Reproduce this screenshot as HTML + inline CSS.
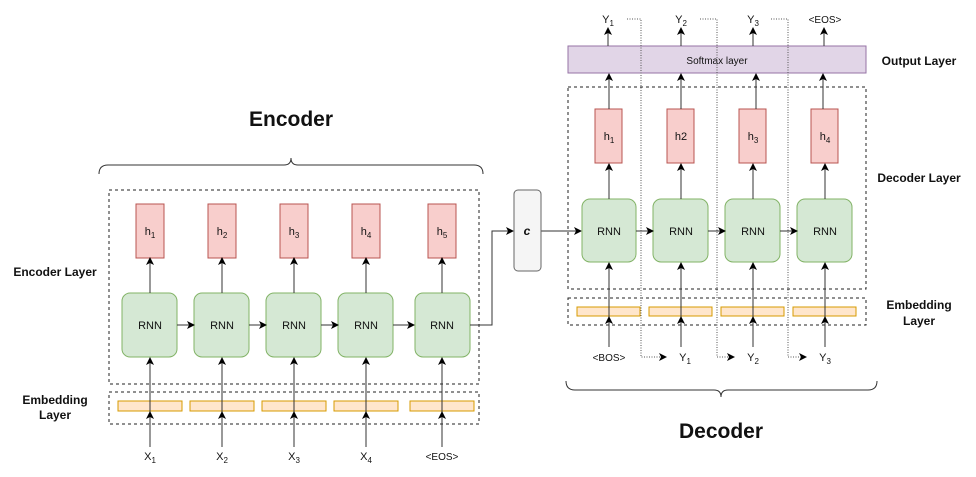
<!DOCTYPE html>
<html><head><meta charset="utf-8"><style>
html,body{margin:0;padding:0;background:#fff;width:976px;height:477px;overflow:hidden}
text{font-family:"Liberation Sans",Arial,sans-serif;fill:#111}
</style></head><body>
<svg width="976" height="477" viewBox="0 0 976 477" xmlns="http://www.w3.org/2000/svg">
<defs>
<marker id="a" markerWidth="8" markerHeight="8" refX="7" refY="4" orient="auto" markerUnits="userSpaceOnUse"><path d="M0,0 L8,4 L0,8 L2,4 z" fill="#000"/></marker>
</defs>
<text x="291" y="126" font-size="21" font-weight="bold" text-anchor="middle">Encoder</text>
<path d="M99,174 Q99,165 108,165 L284,165 Q291,165 291,158 Q291,165 298,165 L474,165 Q483,165 483,174" fill="none" stroke="#333" stroke-width="1"/>
<rect x="109" y="190" width="370" height="194" fill="none" stroke="#222" stroke-dasharray="3,3"/>
<rect x="109" y="392" width="370" height="32" fill="none" stroke="#222" stroke-dasharray="3,3"/>
<text x="55" y="276" font-size="12" font-weight="bold" text-anchor="middle">Encoder Layer</text>
<text x="55" y="404" font-size="12" font-weight="bold" text-anchor="middle">Embedding</text>
<text x="55" y="419" font-size="12" font-weight="bold" text-anchor="middle">Layer</text>
<g fill="#f8cecc" stroke="#b85450">
<rect x="136" y="204" width="28" height="54"/><rect x="208" y="204" width="28" height="54"/><rect x="280" y="204" width="28" height="54"/><rect x="352" y="204" width="28" height="54"/><rect x="428" y="204" width="28" height="54"/>
</g>
<g fill="#d5e8d4" stroke="#82b366">
<rect x="122" y="293" width="55" height="64" rx="8"/><rect x="194" y="293" width="55" height="64" rx="8"/><rect x="266" y="293" width="55" height="64" rx="8"/><rect x="338" y="293" width="55" height="64" rx="8"/><rect x="415" y="293" width="55" height="64" rx="8"/>
</g>
<g fill="#ffe6cc" stroke="#d79b00">
<rect x="118" y="401" width="64" height="10"/><rect x="190" y="401" width="64" height="10"/><rect x="262" y="401" width="64" height="10"/><rect x="334" y="401" width="64" height="10"/><rect x="410" y="401" width="64" height="10"/>
</g>
<g stroke="#333" stroke-width="1" fill="none">
<line x1="150" y1="447" x2="150" y2="358" marker-end="url(#a)"/>
<line x1="222" y1="447" x2="222" y2="358" marker-end="url(#a)"/>
<line x1="294" y1="447" x2="294" y2="358" marker-end="url(#a)"/>
<line x1="366" y1="447" x2="366" y2="358" marker-end="url(#a)"/>
<line x1="442" y1="447" x2="442" y2="358" marker-end="url(#a)"/>
<line x1="150" y1="420" x2="150" y2="412" marker-end="url(#a)"/>
<line x1="222" y1="420" x2="222" y2="412" marker-end="url(#a)"/>
<line x1="294" y1="420" x2="294" y2="412" marker-end="url(#a)"/>
<line x1="366" y1="420" x2="366" y2="412" marker-end="url(#a)"/>
<line x1="442" y1="420" x2="442" y2="412" marker-end="url(#a)"/>
<line x1="150" y1="293" x2="150" y2="258" marker-end="url(#a)"/>
<line x1="222" y1="293" x2="222" y2="258" marker-end="url(#a)"/>
<line x1="294" y1="293" x2="294" y2="258" marker-end="url(#a)"/>
<line x1="366" y1="293" x2="366" y2="258" marker-end="url(#a)"/>
<line x1="442" y1="293" x2="442" y2="258" marker-end="url(#a)"/>
<line x1="177" y1="325" x2="194" y2="325" marker-end="url(#a)"/>
<line x1="249" y1="325" x2="266" y2="325" marker-end="url(#a)"/>
<line x1="321" y1="325" x2="338" y2="325" marker-end="url(#a)"/>
<line x1="393" y1="325" x2="414" y2="325" marker-end="url(#a)"/>
<polyline points="470,325 492,325 492,231 513,231" marker-end="url(#a)"/>
<line x1="541" y1="231" x2="581" y2="231" marker-end="url(#a)"/>
</g>
<g font-size="11" text-anchor="middle">
<text x="150" y="235">h<tspan font-size="8" dy="3">1</tspan></text>
<text x="222" y="235">h<tspan font-size="8" dy="3">2</tspan></text>
<text x="294" y="235">h<tspan font-size="8" dy="3">3</tspan></text>
<text x="366" y="235">h<tspan font-size="8" dy="3">4</tspan></text>
<text x="442" y="235">h<tspan font-size="8" dy="3">5</tspan></text>
<text x="150" y="329">RNN</text><text x="222" y="329">RNN</text><text x="294" y="329">RNN</text><text x="366" y="329">RNN</text><text x="442" y="329">RNN</text>
<text x="150" y="460">X<tspan font-size="8" dy="3">1</tspan></text>
<text x="222" y="460">X<tspan font-size="8" dy="3">2</tspan></text>
<text x="294" y="460">X<tspan font-size="8" dy="3">3</tspan></text>
<text x="366" y="460">X<tspan font-size="8" dy="3">4</tspan></text>
<text x="442" y="460" font-size="10">&lt;EOS&gt;</text>
</g>
<rect x="514" y="190" width="27" height="81" rx="4" fill="#f5f5f5" stroke="#666"/>
<text x="527" y="235" font-size="12" font-weight="bold" font-style="italic" text-anchor="middle">c</text>
<rect x="568" y="46" width="298" height="27" fill="#e1d5e7" stroke="#9673a6"/>
<text x="717" y="64" font-size="10" text-anchor="middle">Softmax layer</text>
<rect x="568" y="87" width="298" height="202" fill="none" stroke="#222" stroke-dasharray="3,3"/>
<rect x="568" y="298" width="298" height="27" fill="none" stroke="#222" stroke-dasharray="3,3"/>
<text x="919" y="65" font-size="12" font-weight="bold" text-anchor="middle">Output Layer</text>
<text x="919" y="182" font-size="12" font-weight="bold" text-anchor="middle">Decoder Layer</text>
<text x="919" y="309" font-size="12" font-weight="bold" text-anchor="middle">Embedding</text>
<text x="919" y="325" font-size="12" font-weight="bold" text-anchor="middle">Layer</text>
<g fill="#f8cecc" stroke="#b85450">
<rect x="595" y="109" width="27" height="54"/><rect x="667" y="109" width="27" height="54"/><rect x="739" y="109" width="27" height="54"/><rect x="811" y="109" width="27" height="54"/>
</g>
<g fill="#d5e8d4" stroke="#82b366">
<rect x="582" y="199" width="54" height="63" rx="8"/><rect x="653" y="199" width="55" height="63" rx="8"/><rect x="725" y="199" width="55" height="63" rx="8"/><rect x="797" y="199" width="55" height="63" rx="8"/>
</g>
<g fill="#ffe6cc" stroke="#d79b00">
<rect x="577" y="307" width="63" height="9"/><rect x="649" y="307" width="63" height="9"/><rect x="721" y="307" width="63" height="9"/><rect x="793" y="307" width="63" height="9"/>
</g>
<g stroke="#333" stroke-width="1" fill="none">
<line x1="609" y1="347" x2="609" y2="263" marker-end="url(#a)"/>
<line x1="681" y1="347" x2="681" y2="263" marker-end="url(#a)"/>
<line x1="753" y1="347" x2="753" y2="263" marker-end="url(#a)"/>
<line x1="825" y1="347" x2="825" y2="263" marker-end="url(#a)"/>
<line x1="609" y1="325" x2="609" y2="317" marker-end="url(#a)"/>
<line x1="681" y1="325" x2="681" y2="317" marker-end="url(#a)"/>
<line x1="753" y1="325" x2="753" y2="317" marker-end="url(#a)"/>
<line x1="825" y1="325" x2="825" y2="317" marker-end="url(#a)"/>
<line x1="609" y1="199" x2="609" y2="164" marker-end="url(#a)"/>
<line x1="681" y1="199" x2="681" y2="164" marker-end="url(#a)"/>
<line x1="753" y1="199" x2="753" y2="164" marker-end="url(#a)"/>
<line x1="825" y1="199" x2="825" y2="164" marker-end="url(#a)"/>
<line x1="609" y1="109" x2="609" y2="74" marker-end="url(#a)"/>
<line x1="681" y1="109" x2="681" y2="74" marker-end="url(#a)"/>
<line x1="756" y1="109" x2="756" y2="74" marker-end="url(#a)"/>
<line x1="823" y1="109" x2="823" y2="74" marker-end="url(#a)"/>
<line x1="608" y1="46" x2="608" y2="28" marker-end="url(#a)"/>
<line x1="681" y1="46" x2="681" y2="28" marker-end="url(#a)"/>
<line x1="753" y1="46" x2="753" y2="28" marker-end="url(#a)"/>
<line x1="824" y1="46" x2="824" y2="28" marker-end="url(#a)"/>
<line x1="636" y1="231" x2="653" y2="231" marker-end="url(#a)"/>
<line x1="708" y1="231" x2="725" y2="231" marker-end="url(#a)"/>
<line x1="780" y1="231" x2="797" y2="231" marker-end="url(#a)"/>
</g>
<g stroke="#555" stroke-width="1" fill="none" stroke-dasharray="1,1.5">
<polyline points="627,19 641,19 641,357 666,357" marker-end="url(#a)"/>
<polyline points="700,19 717,19 717,357 734,357" marker-end="url(#a)"/>
<polyline points="771,19 788,19 788,357 806,357" marker-end="url(#a)"/>
</g>
<g font-size="11" text-anchor="middle">
<text x="609" y="140">h<tspan font-size="8" dy="3">1</tspan></text>
<text x="681" y="140">h2</text>
<text x="753" y="140">h<tspan font-size="8" dy="3">3</tspan></text>
<text x="825" y="140">h<tspan font-size="8" dy="3">4</tspan></text>
<text x="609" y="235">RNN</text><text x="681" y="235">RNN</text><text x="753" y="235">RNN</text><text x="825" y="235">RNN</text>
<text x="608" y="23">Y<tspan font-size="8" dy="3">1</tspan></text>
<text x="681" y="23">Y<tspan font-size="8" dy="3">2</tspan></text>
<text x="753" y="23">Y<tspan font-size="8" dy="3">3</tspan></text>
<text x="825" y="23" font-size="10">&lt;EOS&gt;</text>
<text x="609" y="361" font-size="10">&lt;BOS&gt;</text>
<text x="685" y="361">Y<tspan font-size="8" dy="3">1</tspan></text>
<text x="753" y="361">Y<tspan font-size="8" dy="3">2</tspan></text>
<text x="825" y="361">Y<tspan font-size="8" dy="3">3</tspan></text>
</g>
<path d="M566,381 Q566,390 575,390 L714,390 Q721,390 721,397 Q721,390 728,390 L868,390 Q877,390 877,381" fill="none" stroke="#333" stroke-width="1"/>
<text x="721" y="438" font-size="21" font-weight="bold" text-anchor="middle">Decoder</text>
</svg>
</body></html>
